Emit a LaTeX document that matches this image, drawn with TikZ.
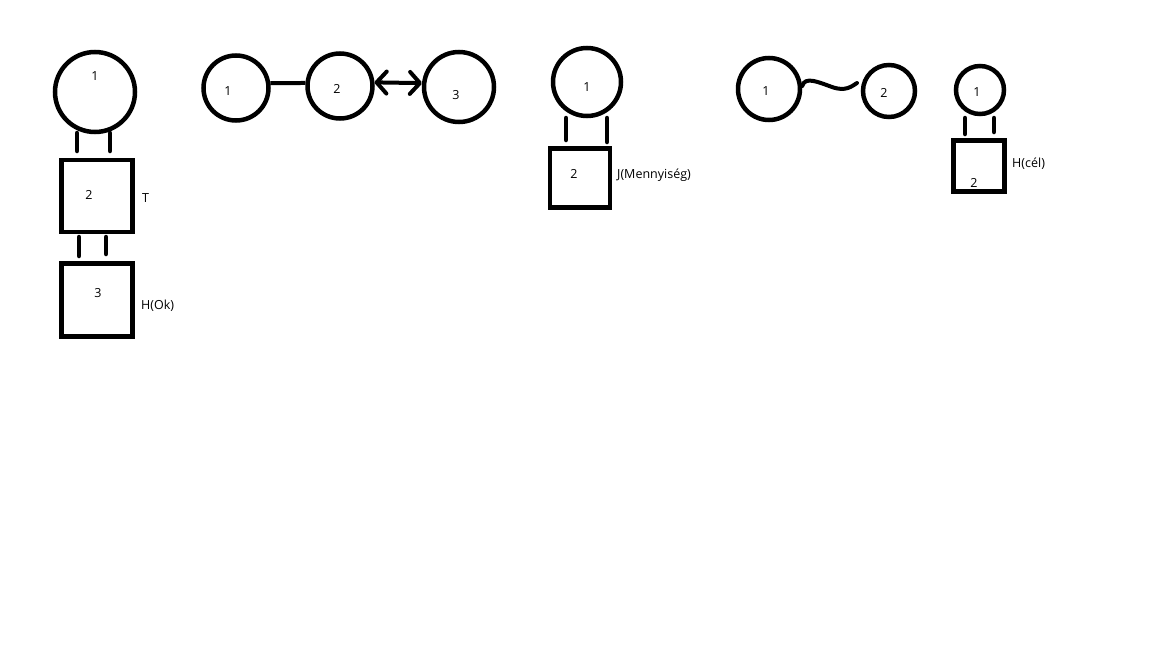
\documentclass[tikz,border=0pt]{standalone}
\usepackage{fontspec}
\setmainfont{Open Sans}
\usetikzlibrary{arrows.meta}
\begin{document}
\begin{tikzpicture}[x=1pt,y=-1pt,
  every node/.style={font=\fontsize{12.5}{14}\selectfont},
  ring/.style={circle,draw,line width=4.5pt,inner sep=0pt},
  sq/.style={rectangle,draw,line width=4.5pt,inner sep=0pt},
  stub/.style={line width=4.5pt,line cap=round},
  bond/.style={line width=4pt},
  lbl/.style={anchor=west,inner sep=0pt},
  num/.style={inner sep=0pt}]
\useasboundingbox (0,0) rectangle (1152,648);
% group 1
\node[ring,minimum size=80pt] (a1) at (95,92) {};
\node[num] at (95,76) {1};
\node[sq,minimum width=71pt,minimum height=72pt] (a2) at (97,196) {};
\node[num] at (89,195) {2};
\node[lbl] (aT) at (142,198) {T};
\node[sq,minimum width=71pt,minimum height=73pt] (a3) at (97,300) {};
\node[num] at (98,293) {3};
\node[lbl] (aH) at (141,306) {H(Ok)};
\coordinate (s1) at (77,133); \coordinate (s1e) at (77,151);
\coordinate (s2) at (110,133); \coordinate (s2e) at (110,151);
\draw[stub] (s1) -- (s1e);
\draw[stub] (s2) -- (s2e);
\coordinate (s3) at (79,237); \coordinate (s3e) at (79,256);
\coordinate (s4) at (106,237); \coordinate (s4e) at (106,254);
\draw[stub] (s3) -- (s3e);
\draw[stub] (s4) -- (s4e);
% group 2
\node[ring,minimum size=65pt] (b1) at (236,88) {};
\node[num] at (228,91) {1};
\node[ring,minimum size=65pt] (b2) at (340,86) {};
\node[num] at (337,89) {2};
\node[ring,minimum size=70pt] (b3) at (459,87) {};
\node[num] at (456,95) {3};
\draw[bond] (b1.8) -- (b2.175);
\draw[line width=4pt,{Straight Barb[length=10pt,width=22pt,line width=4pt,round]}-{Straight Barb[length=10pt,width=22pt,line width=4pt,round]}] (b2.6) -- (b3.174);
% group 3
\node[ring,minimum size=68pt] (c1) at (587,82) {};
\node[num] at (587,87) {1};
\node[sq,minimum width=60pt,minimum height=59pt] (c2) at (580,178) {};
\node[num] at (574,174) {2};
\node[lbl] (cJ) at (617,175) {J(Mennyiség)};
\coordinate (t1) at (566,118); \coordinate (t1e) at (566,140);
\coordinate (t2) at (607,118); \coordinate (t2e) at (607,142);
\draw[stub] (t1) -- (t1e);
\draw[stub] (t2) -- (t2e);
% group 4
\node[ring,minimum size=62pt] (d1) at (769,89) {};
\node[num] at (766,91) {1};
\node[ring,minimum size=52pt] (d2) at (889,91) {};
\node[num] at (884,93) {2};
\draw[line width=4pt,line cap=round] (d1.east) ++(0,-3) .. controls (805,76) and (818,82) .. (832,87) .. controls (846,92) and (852,86) .. (857,83);
% group 5
\node[ring,minimum size=48pt] (e1) at (980,90) {};
\node[num] at (977,92) {1};
\node[sq,minimum width=51pt,minimum height=51pt] (e2) at (979,166) {};
\node[num] at (974,183) {2};
\node[lbl] (eH) at (1012,164) {H(cél)};
\coordinate (u1) at (965,118); \coordinate (u1e) at (965,134);
\coordinate (u2) at (994,118); \coordinate (u2e) at (994,132);
\draw[stub] (u1) -- (u1e);
\draw[stub] (u2) -- (u2e);
\end{tikzpicture}
\end{document}
